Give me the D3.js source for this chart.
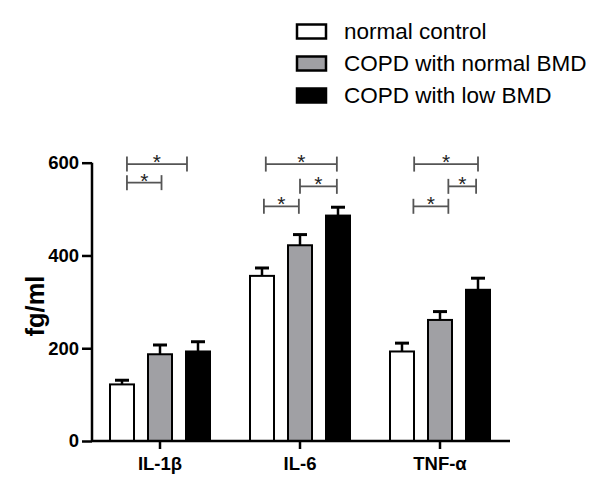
<!DOCTYPE html>
<html><head><meta charset="utf-8">
<script src="https://cdn.jsdelivr.net/npm/d3@7"></script>
<style>
body{margin:0;background:#fff}svg{display:block}
text{font-family:Arial,"Liberation Sans",sans-serif;font-stretch:normal}
.axis text{font-size:18.5px;font-weight:700;fill:#000}
.ylab{font-size:25.5px;font-weight:700;fill:#000}
.leg{font-size:22.5px;fill:#000}
.star{font-size:21px;fill:#222}
</style>
</head><body><svg id="c" width="600" height="492"></svg>
<script>
const categories = ["IL-1β", "IL-6", "TNF-α"];
const seriesNames = ["normal control", "COPD with normal BMD", "COPD with low BMD"];
const seriesColors = ["#ffffff", "#a0a0a4", "#000000"];
const meanValues = [[122, 187, 193], [356, 422, 486], [193, 261, 326]];
const errorTops = [[131, 207, 214], [373, 445, 504], [211, 279, 351]];
const yTicks = [0, 200, 400, 600];
// brackets: [category index, from (series position), to (series position), level]
const brackets = [
  [0, 0.13, 1.71, 597], [0, 0.13, 1.04, 557],
  [1, 0.10, 1.97, 597], [1, 1.00, 1.97, 549], [1, 0.05, 0.97, 506],
  [2, 0.32, 2.00, 597], [2, 1.22, 1.95, 549], [2, 0.30, 1.22, 506]
];

(function () {
const svg = d3.select("#c");
const mLeft = 92, mRight = 510, mTop = 162.7, mBottom = 441;
const x = d3.scaleBand().domain(categories).range([90, 510]);
const y = d3.scaleLinear().domain([0, 600]).range([mBottom, mTop]);
const step = 38, bw = 24;
const sx = (ci, s) => x(categories[ci]) + x.bandwidth() / 2 + (s - 1) * step;

categories.forEach((c, ci) => {
  seriesNames.forEach((s, si) => {
    const cx = sx(ci, si);
    svg.append("line").attr("x1", cx).attr("x2", cx)
      .attr("y1", y(meanValues[ci][si])).attr("y2", y(errorTops[ci][si]))
      .attr("stroke", "#000").attr("stroke-width", 2.5);
    svg.append("line").attr("x1", cx - 7).attr("x2", cx + 7)
      .attr("y1", y(errorTops[ci][si])).attr("y2", y(errorTops[ci][si]))
      .attr("stroke", "#000").attr("stroke-width", 3);
    svg.append("rect").attr("x", cx - bw / 2).attr("width", bw)
      .attr("y", y(meanValues[ci][si])).attr("height", y(0) - y(meanValues[ci][si]))
      .attr("fill", seriesColors[si]).attr("stroke", "#000").attr("stroke-width", 2);
  });
});

const yAxis = svg.append("g").attr("class", "axis").attr("transform", `translate(${mLeft},0)`)
  .call(d3.axisLeft(y).tickValues(yTicks).tickSize(10).tickPadding(3));
const xAxis = svg.append("g").attr("class", "axis").attr("transform", `translate(0,${mBottom})`)
  .call(d3.axisBottom(x).tickSize(8).tickPadding(8));
xAxis.select(".domain").attr("d", `M${mLeft},0H${mRight}`);
yAxis.select(".domain").attr("d", `M0,${mTop}V${mBottom}`);
[yAxis, xAxis].forEach(g => {
  g.selectAll("path,line").attr("stroke", "#000").attr("stroke-width", 2.5);
});

svg.append("text").attr("class", "ylab").attr("transform", `translate(43.5,306) rotate(-90)`)
  .attr("text-anchor", "middle").text("fg/ml");

brackets.forEach(([ci, a, b, lv]) => {
  const x1 = sx(ci, a), x2 = sx(ci, b), yy = y(lv);
  const g = svg.append("g").attr("stroke", "#555").attr("stroke-width", 1.8);
  g.append("line").attr("x1", x1).attr("x2", x2).attr("y1", yy).attr("y2", yy);
  g.append("line").attr("x1", x1).attr("x2", x1).attr("y1", yy - 7.5).attr("y2", yy + 7.5);
  g.append("line").attr("x1", x2).attr("x2", x2).attr("y1", yy - 7.5).attr("y2", yy + 7.5);
  svg.append("text").attr("class", "star").attr("x", (x1 + x2) / 2).attr("y", yy + 5)
    .attr("text-anchor", "middle").text("*");
});

const lg = svg.append("g");
seriesNames.forEach((s, i) => {
  const cy = 31.5 + i * 32;
  lg.append("rect").attr("x", 297).attr("y", cy - 7).attr("width", 29).attr("height", 14)
    .attr("fill", seriesColors[i]).attr("stroke", "#000").attr("stroke-width", 2.5);
  lg.append("text").attr("class", "leg").attr("x", 344).attr("y", cy + 7.5).text(s);
});

svg.selectAll("text").each(function () { this.getBBox(); });
svg.append("rect").attr("width", 0).attr("height", 0).attr("fill", "none");
})();
</script></body></html>
